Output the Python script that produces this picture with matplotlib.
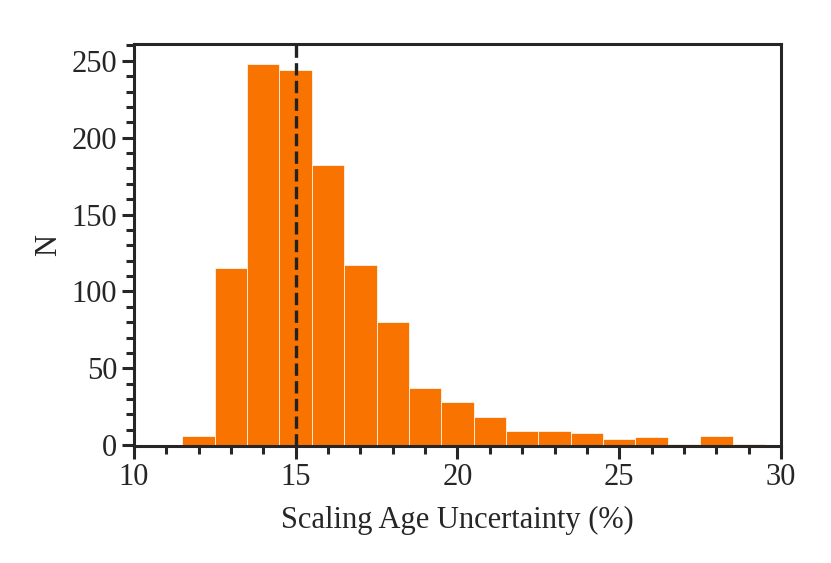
import matplotlib
matplotlib.use("Agg")
import matplotlib.pyplot as plt
from matplotlib.ticker import MultipleLocator

bin_left = [11.5, 12.5, 13.5, 14.5, 15.5, 16.5, 17.5, 18.5, 19.5, 20.5,
            21.5, 22.5, 23.5, 24.5, 25.5, 26.5, 27.5, 28.5]
counts = [6, 115, 248, 244, 182, 117, 80, 37, 28, 18,
          9, 9, 8, 4, 5, 1, 6, 1]
bin_width = 1.0
median_line = 15

plt.rcParams['font.family'] = ['Liberation Serif', 'DejaVu Serif']

fig = plt.figure(figsize=(8.31, 5.63), dpi=100)
ax = fig.add_axes([0.161, 0.208, 0.779, 0.714])

ax.bar(bin_left, counts, width=bin_width, align='edge', color='#f97300',
       edgecolor='white', linewidth=0.5, zorder=2)
ax.axvline(median_line, color='#222222', linestyle='--', linewidth=2.4, zorder=3)

ax.set_xlim(10, 30)
ax.set_ylim(-0.5, 261)
ax.xaxis.set_major_locator(MultipleLocator(5))
ax.xaxis.set_minor_locator(MultipleLocator(1))
ax.yaxis.set_major_locator(MultipleLocator(50))
ax.yaxis.set_minor_locator(MultipleLocator(10))

for s in ax.spines.values():
    s.set_linewidth(2.2)
    s.set_color('#262626')
ax.tick_params(which='both', direction='out', color='#262626', width=2.2,
               top=False, right=False, labelsize=22, labelcolor='#262626')
ax.tick_params(which='major', length=9, pad=3)
ax.tick_params(which='minor', length=6)

ax.set_xlabel('Scaling Age Uncertainty (%)', fontsize=22, color='#262626', labelpad=10)
ax.set_ylabel('N', fontsize=22, color='#262626', labelpad=6)

fig.savefig('out.png', dpi=100)
